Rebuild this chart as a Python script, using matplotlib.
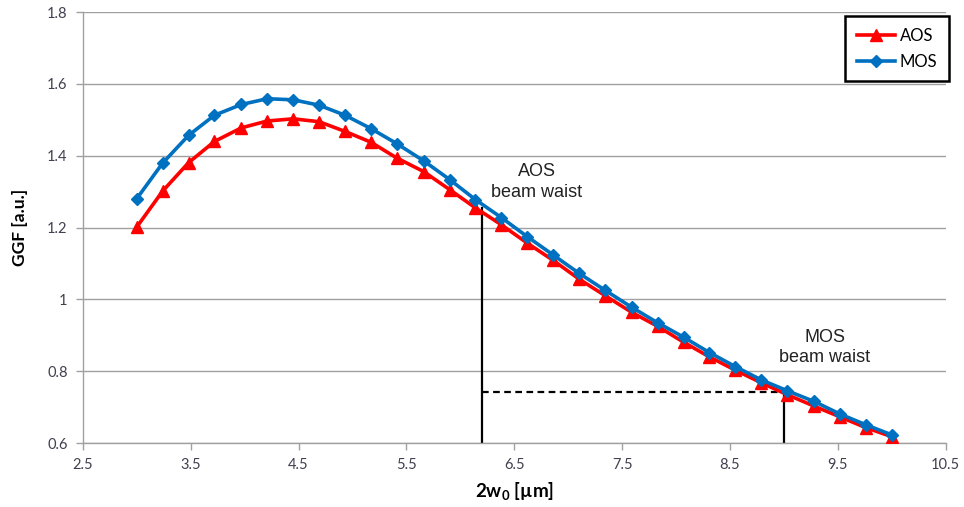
import matplotlib.pyplot as plt

# beam diameter 2w0 [um] (30 points from 3 to 10)
w0 = [3.00, 3.24, 3.48, 3.72, 3.97, 4.21, 4.45, 4.69, 4.93, 5.17,
      5.41, 5.66, 5.90, 6.14, 6.38, 6.62, 6.86, 7.10, 7.34, 7.59,
      7.83, 8.07, 8.31, 8.55, 8.79, 9.03, 9.28, 9.52, 9.76, 10.00]
aos = [1.202, 1.302, 1.381, 1.440, 1.478, 1.497, 1.503, 1.495, 1.468, 1.438,
       1.394, 1.356, 1.306, 1.255, 1.208, 1.157, 1.109, 1.057, 1.011, 0.964,
       0.925, 0.881, 0.840, 0.803, 0.768, 0.735, 0.703, 0.673, 0.643, 0.618]
mos = [1.281, 1.380, 1.457, 1.513, 1.543, 1.559, 1.556, 1.541, 1.513, 1.476,
       1.434, 1.386, 1.334, 1.278, 1.228, 1.175, 1.124, 1.073, 1.026, 0.978,
       0.935, 0.895, 0.852, 0.813, 0.776, 0.746, 0.716, 0.681, 0.651, 0.623]

aos_waist = 6.2
mos_waist = 9.0
mos_level = 0.743
aos_top = 1.255

xticks = [2.5, 3.5, 4.5, 5.5, 6.5, 7.5, 8.5, 9.5, 10.5]
yticks = [0.6, 0.8, 1.0, 1.2, 1.4, 1.6, 1.8]
ytick_labels = ['0.6', '0.8', '1', '1.2', '1.4', '1.6', '1.8']

fig = plt.figure(figsize=(9.64, 5.07), dpi=100)
ax = fig.add_axes([0.086, 0.126, 0.895, 0.850])

grey = '#a0a0a0'
tick_col = '#404050'
fam = ['Lato', 'DejaVu Sans']

ax.set_xlim(2.5, 10.5)
ax.set_ylim(0.6, 1.8)
ax.set_xticks(xticks)
ax.set_yticks(yticks)
ax.set_xticklabels([str(t) for t in xticks], fontsize=10.5, color=tick_col, family=fam)
ax.set_yticklabels(ytick_labels, fontsize=10.5, color=tick_col, family=fam)
ax.tick_params(direction='out', length=5, color=grey, width=1, pad=6)
ax.yaxis.grid(True, color=grey, linewidth=1)
ax.set_axisbelow(True)
for s in ['top', 'right']:
    ax.spines[s].set_visible(False)
for s in ['left', 'bottom']:
    ax.spines[s].set_color(grey)
    ax.spines[s].set_linewidth(1)

# beam waist markers
ax.plot([aos_waist, aos_waist], [0.6, aos_top], color='black', linewidth=1.6, zorder=2)
ax.plot([mos_waist, mos_waist], [0.6, mos_level], color='black', linewidth=1.6, zorder=2)
ax.plot([aos_waist, mos_waist], [mos_level, mos_level], color='black', linewidth=1.6,
        linestyle=(0, (3, 2)), zorder=2)

ax.plot(w0, aos, color='#ff0000', linewidth=2.6, marker='^', markersize=8.5, label='AOS', zorder=3)
ax.plot(w0, mos, color='#0070c0', linewidth=2.6, marker='D', markersize=6, label='MOS', zorder=4)

txt = dict(ha='center', va='center', fontsize=13, family='Liberation Sans', color='#222222')
ax.text(6.71, 1.355, 'AOS', **txt)
ax.text(6.71, 1.299, 'beam waist', **txt)
ax.text(9.38, 0.894, 'MOS', **txt)
ax.text(9.38, 0.839, 'beam waist', **txt)

ax.set_ylabel('GGF [a.u.]', fontsize=12.5, fontweight='bold', family=fam, labelpad=14)
ax.set_xlabel(r'2w$_\mathregular{0}$ [µm]', fontsize=13.5, fontweight='bold', family=fam, labelpad=6)

leg = ax.legend(loc='upper right', bbox_to_anchor=(1.004, 0.991), borderaxespad=0,
                prop={'family': fam, 'size': 12}, fancybox=False, framealpha=1,
                handlelength=2.3, handletextpad=0.3, borderpad=0.7, labelspacing=0.6)
leg.get_frame().set_edgecolor('black')
leg.get_frame().set_linewidth(1.8)

fig.savefig('out.png', dpi=100)
